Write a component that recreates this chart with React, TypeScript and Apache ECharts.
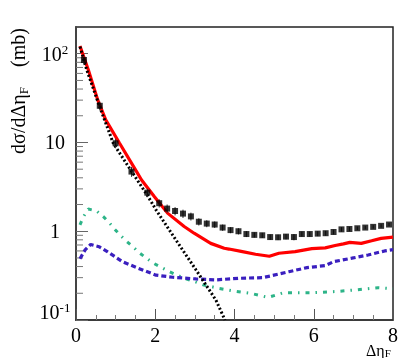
import React, { useEffect, useRef } from 'react';
import * as echarts from 'echarts';

const FONT = 'Liberation Serif';

// Measured data points (black squares with error bars)
const dataX = [0.2, 0.6, 1.0, 1.4, 1.8, 2.1, 2.3, 2.5, 2.7, 2.9, 3.1, 3.3, 3.5, 3.7, 3.9, 4.1, 4.3, 4.5, 4.7, 4.9, 5.1, 5.3, 5.5, 5.7, 5.9, 6.1, 6.3, 6.5, 6.7, 6.9, 7.1, 7.3, 7.5, 7.7, 7.9];
const dataY = [85, 25.9, 9.8, 4.7, 2.72, 2.07, 1.8, 1.69, 1.58, 1.47, 1.28, 1.22, 1.19, 1.1, 1.03, 1.0, 0.93, 0.91, 0.9, 0.86, 0.855, 0.87, 0.86, 0.93, 0.93, 0.94, 0.95, 0.98, 1.05, 1.06, 1.08, 1.1, 1.12, 1.15, 1.19];
const dataErr = [9, 3, 1.2, 0.6, 0.3, 0.22, 0.2, 0.18, 0.17, 0.15, 0.12, 0.11, 0.1, 0.09, 0.08, 0.08, 0.07, 0.06, 0.06, 0.06, 0.06, 0.06, 0.07, 0.06, 0.06, 0.06, 0.06, 0.06, 0.06, 0.06, 0.05, 0.05, 0.05, 0.05, 0.05];

// Red solid curve
const redX = [0.1, 0.31, 0.55, 0.75, 1.1, 1.54, 1.65, 1.98, 2.31, 2.73, 2.98, 3.4, 3.74, 3.86, 4.2, 4.53, 4.88, 5.12, 5.53, 5.95, 6.29, 6.54, 6.75, 6.91, 7.2, 7.46, 7.7, 8.0];
const redY = [122, 66, 30, 18, 9.8, 4.6, 3.8, 2.45, 1.6, 1.13, 0.95, 0.73, 0.643, 0.63, 0.59, 0.55, 0.523, 0.565, 0.589, 0.637, 0.65, 0.69, 0.72, 0.75, 0.73, 0.78, 0.83, 0.86];

// Black dotted curve
const dotX = [0.1, 0.27, 0.58, 0.94, 1.4, 1.81, 2.02, 2.52, 3.03, 3.53, 3.76];
const dotY = [120, 66, 26.5, 9.8, 4.74, 2.5, 1.74, 0.8, 0.366, 0.168, 0.1];

// Green dash-dotted curve
const greenX = [0.1, 0.2, 0.31, 0.52, 0.69, 0.84, 0.98, 1.13, 1.29, 1.45, 1.6, 1.77, 1.96, 2.36, 2.73, 3.0, 3.2, 3.61, 3.99, 4.4, 4.85, 5.24, 5.95, 6.54, 7.04, 7.62, 8.0];
const greenY = [1.18, 1.49, 1.78, 1.69, 1.46, 1.25, 1.05, 0.89, 0.76, 0.66, 0.57, 0.5, 0.435, 0.35, 0.295, 0.27, 0.25, 0.227, 0.212, 0.2, 0.18, 0.203, 0.203, 0.209, 0.218, 0.231, 0.225];

// Blue dashed curve
const blueX = [0.1, 0.23, 0.37, 0.58, 0.79, 0.98, 1.17, 1.37, 1.57, 2.02, 2.44, 3.03, 3.53, 4.11, 4.7, 4.9, 5.37, 5.83, 6.29, 6.5, 6.96, 7.37, 7.79, 8.0];
const blueY = [0.49, 0.616, 0.71, 0.67, 0.589, 0.518, 0.454, 0.417, 0.383, 0.32, 0.303, 0.29, 0.283, 0.295, 0.3, 0.313, 0.35, 0.389, 0.41, 0.454, 0.497, 0.54, 0.6, 0.62];

// Axis ticks
const xTicks = [0, 2, 4, 6, 8];
const yDecades = [0.1, 1, 10, 100];
const yMinorMultipliers = [2, 3, 4, 5, 6, 7, 8, 9];

const zip = (xs: number[], ys: number[]) => xs.map((x, i) => [x, ys[i]]);

export default function App() {
  const ref = useRef<HTMLDivElement>(null);
  useEffect(() => {
    const chart = echarts.init(ref.current!, null, { renderer: 'svg' });
    const yMinor: number[][] = [];
    yDecades.forEach((d) => yMinorMultipliers.forEach((m) => {
      const v = d * m;
      if (v < 200) yMinor.push([0, v]);
    }));
    const errData = dataX.map((x, i) => [x, dataY[i] - dataErr[i], dataY[i] + dataErr[i]]);

    chart.setOption({
      animation: false,
      grid: { left: 76, right: 6, top: 27, bottom: 38, show: true, borderColor: '#222', borderWidth: 1.5 },
      xAxis: {
        type: 'value', min: xTicks[0], max: xTicks[xTicks.length - 1], interval: 2,
        axisLine: { show: true, lineStyle: { color: '#333', width: 1.5 } },
        axisTick: { show: true, inside: true, length: 11, lineStyle: { color: '#555', width: 1 } },
        minorTick: { show: true, splitNumber: 4, length: 5, lineStyle: { color: '#777', width: 1 } },
        splitLine: { show: false },
        axisLabel: { fontFamily: FONT, fontSize: 20, color: '#000', margin: 5, lineHeight: 20 },
      },
      yAxis: {
        type: 'log', logBase: 10, min: 0.1, max: 200,
        axisLine: { show: true, lineStyle: { color: '#444', width: 2 } },
        axisTick: { show: true, inside: true, length: 12, lineStyle: { color: '#666', width: 1 } },
        splitLine: { show: false },
        axisLabel: {
          showMaxLabel: false,
          align: 'center',
          margin: 21,
          formatter: (v: number) => {
            const l = Math.log10(v);
            const e = Math.round(l);
            if (Math.abs(l - e) > 0.01) return '';
            if (e === 2) return '{b|10}{s|2}';
            if (e === 1) return '{b|10}';
            if (e === 0) return '{b|1}';
            if (e === -1) return '{b|10}{s|-1}\n{g| }';
            return '';
          },
          rich: {
            b: { fontFamily: FONT, fontSize: 20, color: '#000', lineHeight: 22 },
            s: { fontFamily: FONT, fontSize: 13, color: '#000', lineHeight: 12, verticalAlign: 'top' },
            g: { fontSize: 8, lineHeight: 16 },
          },
        },
      },
      graphic: [
        {
          type: 'text', x: 18, y: 91, rotation: Math.PI / 2,
          style: {
            text: '{a|dσ/dΔη}{f|F}{a|    (mb)}',
            align: 'center', verticalAlign: 'middle',
            rich: {
              a: { fontFamily: FONT, fontSize: 20, fill: '#000', lineHeight: 24 },
              f: { fontFamily: FONT, fontSize: 13, fill: '#000', lineHeight: 24, verticalAlign: 'bottom' },
            },
          },
        },
        {
          type: 'text', x: 366, y: 342,
          style: {
            text: '{a|Δη}{f|F}',
            align: 'left', verticalAlign: 'top',
            rich: {
              a: { fontFamily: FONT, fontSize: 16, fill: '#000', lineHeight: 16 },
              f: { fontFamily: FONT, fontSize: 11, fill: '#000', lineHeight: 16, verticalAlign: 'bottom' },
            },
          },
        },
      ],
      series: [
        {
          type: 'custom', silent: true, data: yMinor, z: 3,
          renderItem: (params: any, api: any) => {
            const p = api.coord([api.value(0), api.value(1)]);
            return { type: 'line', shape: { x1: p[0], y1: p[1], x2: p[0] + 7, y2: p[1] }, style: { stroke: '#777', lineWidth: 1 } };
          },
        },
        {
          type: 'line', data: zip(redX, redY), showSymbol: false, z: 4,
          lineStyle: { color: '#ff0000', width: 3.2 },
        },
        {
          type: 'line', data: zip(greenX, greenY), showSymbol: false, z: 4,
          lineStyle: { color: '#2db488', width: 3, type: [4, 6, 1.5, 6] },
        },
        {
          type: 'line', data: zip(blueX, blueY), showSymbol: false, z: 4,
          lineStyle: { color: '#3a1fbf', width: 3.2, type: [5, 3] },
        },
        {
          type: 'line', data: zip(dotX, dotY), showSymbol: false, z: 5,
          lineStyle: { color: '#000', width: 3, type: [2, 2.2] },
        },
        {
          type: 'custom', data: errData, z: 6,
          renderItem: (params: any, api: any) => {
            const a = api.coord([api.value(0), api.value(1)]);
            const b = api.coord([api.value(0), api.value(2)]);
            return { type: 'line', shape: { x1: a[0], y1: a[1], x2: b[0], y2: b[1] }, style: { stroke: '#333', lineWidth: 1 } };
          },
        },
        {
          type: 'scatter', data: zip(dataX, dataY), symbol: 'rect', symbolSize: 6, z: 7,
          itemStyle: { color: '#000' },
        },
      ],
    });
    return () => chart.dispose();
  }, []);
  return <div ref={ref} style={{ position: 'fixed', left: 0, top: 0, width: 401, height: 358 }} />;
}
